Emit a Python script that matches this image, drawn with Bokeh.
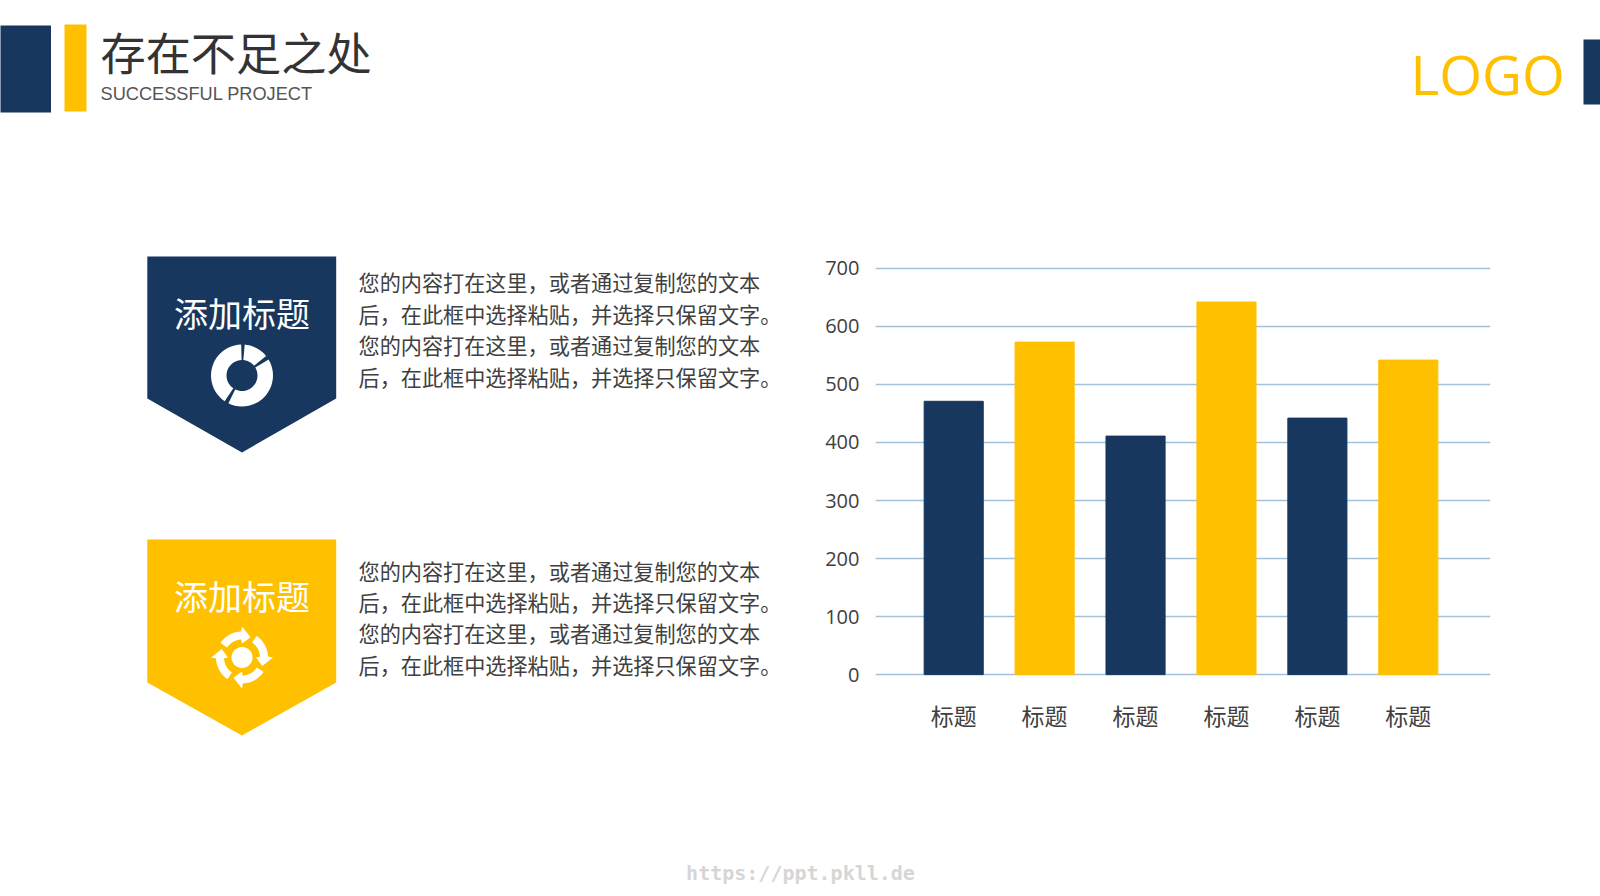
import numpy as np
from bokeh.core.properties import value
from bokeh.embed import file_html
from bokeh.resources import INLINE
from bokeh.plotting import figure
from bokeh.models import ColumnDataSource, Range1d, FixedTicker

categories = ["标题", "标题", "标题", "标题", "标题", "标题"]
values = [471, 573, 411, 642, 442, 542]
y_ticks = [0, 100, 200, 300, 400, 500, 600, 700]
title_text = "存在不足之处"
subtitle_text = "SUCCESSFUL PROJECT"
logo_text = "LOGO"
heading_text = "添加标题"
body_lines = ["您的内容打在这里，或者通过复制您的文本",
              "后，在此框中选择粘贴，并选择只保留文字。",
              "您的内容打在这里，或者通过复制您的文本",
              "后，在此框中选择粘贴，并选择只保留文字。"]
watermark_text = "https://ppt.pkll.de"

NAVY = "#17375e"
GOLD = "#ffc000"
bar_colors = [NAVY, GOLD, NAVY, GOLD, NAVY, GOLD]
CJK = "Noto Sans CJK SC"

X_CH0, X_CH1, Y_CH0, Y_CH1 = 790, 1510, 250, 745   # chart figure's box on the page
FL, FR, FT, FB = 875, 1490, 265, 677               # its plot frame

# background figure: page pixels as data, frame fills the page
bg = figure(width=1600, height=896, output_backend="svg", toolbar_location=None,
            x_range=Range1d(0, 1600), y_range=Range1d(896, 0),
            min_border=0, min_border_left=0, min_border_right=0, min_border_top=0, min_border_bottom=0)
bg.axis.visible = False
bg.grid.visible = False
bg.outline_line_color = None
bg.background_fill_color = "white"
bg.border_fill_color = "white"


def poly(xs, ys, color):
    bg.patch(list(map(float, xs)), list(map(float, ys)), fill_color=color, line_color=None)


def box(l, t, r, b, color):
    bg.quad(left=[l], right=[r], top=[t], bottom=[b], fill_color=color, line_color=None)


def label(x, y, text, size, color, font=CJK, align="left", style="normal"):
    bg.text([x], [y], text=[text], text_font=value(font), text_font_size=value(f"{size}px"),
            text_color=color, text_align=align, text_baseline="middle", text_font_style=style)


def sector(cx, cy, r0, r1, a0, a1, color):
    t = np.radians(np.linspace(a0, a1, 24))
    xs = np.r_[cx + r1 * np.cos(t), cx + r0 * np.cos(t[::-1])]
    ys = np.r_[cy - r1 * np.sin(t), cy - r0 * np.sin(t[::-1])]
    poly(xs, ys, color)


# header
box(-5, 25, 50.5, 112, NAVY)
box(64, 24, 86, 111, GOLD)
label(100, 51, title_text, 45.2, "#333333")
label(100, 93, subtitle_text, 18.2, "#555555", font="Liberation Sans")
label(1410, 73, logo_text, 55, GOLD, font="Open Sans")
box(1583, 39, 1605, 104, NAVY)

# panels
for t0, sh, apex, col, hy, lines_y in [(256, 398, 452, NAVY, 312, [281, 312.5, 344, 375.5]),
                                       (539, 682, 735, GOLD, 595, [569.5, 601, 632, 663.5])]:
    poly([146.8, 335.7, 335.7, 241.5, 146.8], [t0, t0, sh, apex, sh], col)
    label(241.5, hy, heading_text, 34, "white", align="center")
    for ly, s in zip(lines_y, body_lines):
        label(358, ly, s, 21.15, "#404040")

# donut icon
for a0, a1 in [(91.5, 236), (244, 391), (39, 85)]:
    sector(241.5, 375, 15.5, 31, a0, a1, "white")

# circular arrows icon
cx, cy = 241.5, 657
t = np.radians(np.linspace(0, 360, 40))
poly(cx + 10.5 * np.cos(t), cy + 10.5 * np.sin(t), "white")
for k in range(4):
    rot = -90 * k
    a = np.radians(np.linspace(146, 92, 14) + rot)
    hx = [cx + r * np.cos(np.radians(d + rot)) for r, d in [(31, 90), (22, 67), (14, 90)]]
    hy_ = [cy - r * np.sin(np.radians(d + rot)) for r, d in [(31, 90), (22, 67), (14, 90)]]
    poly(list(cx + 26 * np.cos(a)) + hx + list(cx + 18 * np.cos(a[::-1])),
         list(cy - 26 * np.sin(a)) + hy_ + list(cy - 18 * np.sin(a[::-1])), "white")

label(800, 872.5, watermark_text, 20, "#d6d6d6", font="DejaVu Sans Mono", align="center", style="bold")

# chart
p = figure(width=X_CH1 - X_CH0, height=Y_CH1 - Y_CH0, output_backend="svg", toolbar_location=None,
           x_range=Range1d(0.14, 6.904), y_range=Range1d(-5, 705),
           min_border_left=FL - X_CH0, min_border_right=X_CH1 - FR,
           min_border_top=FT - Y_CH0, min_border_bottom=Y_CH1 - FB,
           styles={"position": "absolute", "left": f"{X_CH0}px", "top": f"{Y_CH0}px"})
p.outline_line_color = None
p.background_fill_color = "white"
p.border_fill_color = "white"

src = ColumnDataSource(dict(x=list(range(1, len(values) + 1)), top=values, color=bar_colors))
p.xgrid.visible = False
p.ygrid.ticker = FixedTicker(ticks=y_ticks)
p.ygrid.grid_line_color = "#a3c2d9"
p.ygrid.grid_line_width = 1.6
p.vbar(x="x", top="top", bottom=0, width=0.65, color="color", source=src)

p.yaxis.ticker = FixedTicker(ticks=y_ticks)
p.yaxis.axis_line_color = None
p.yaxis.major_tick_line_color = None
p.yaxis.minor_tick_line_color = None
p.yaxis.major_tick_out = 0
p.yaxis.major_label_text_font = "Open Sans"
p.yaxis.major_label_text_font_size = "20px"
p.yaxis.major_label_text_color = "#404040"
p.yaxis.major_label_standoff = 16

p.xaxis.ticker = FixedTicker(ticks=list(range(1, len(categories) + 1)))
p.xaxis.major_label_overrides = {i + 1: c for i, c in enumerate(categories)}
p.xaxis.axis_line_color = None
p.xaxis.major_tick_line_color = None
p.xaxis.minor_tick_line_color = None
p.xaxis.major_tick_out = 0
p.xaxis.major_label_text_font = CJK
p.xaxis.major_label_text_font_size = "23px"
p.xaxis.major_label_text_color = "#404040"
p.xaxis.major_label_standoff = 20

open("out.html", "w").write(file_html([bg, p], INLINE))
